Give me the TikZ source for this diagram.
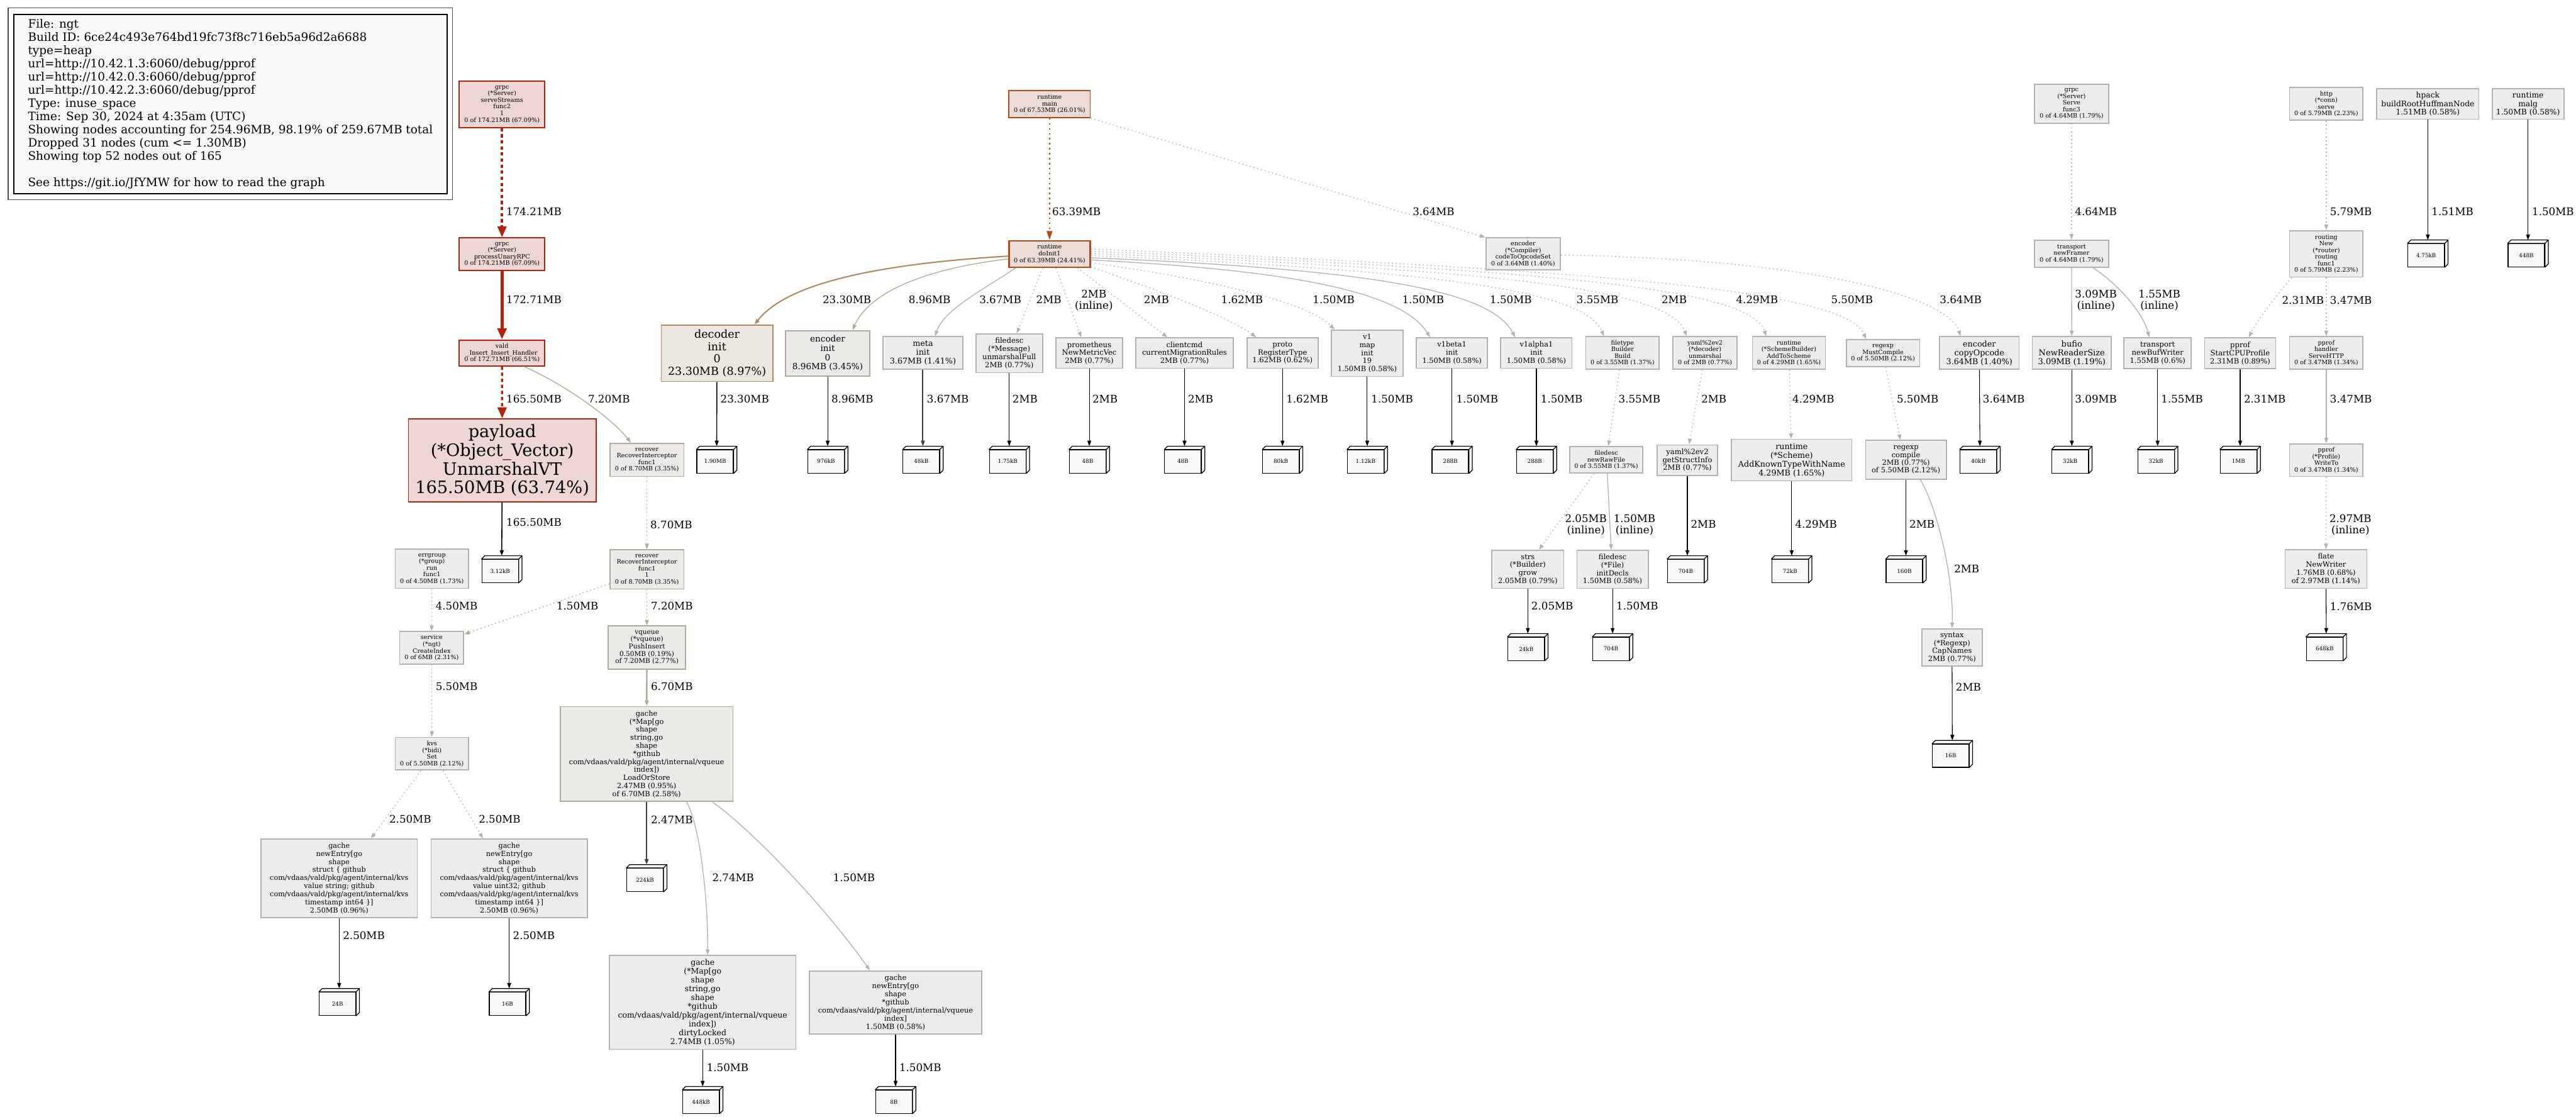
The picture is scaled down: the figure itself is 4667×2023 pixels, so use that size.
\documentclass[tikz,border=0pt]{standalone}
\usepackage{fontspec}
\setmainfont{DejaVu Serif}
\usetikzlibrary{arrows.meta}

\definecolor{grayf}{HTML}{EDEDED}
\definecolor{grayb}{HTML}{B2B2B2}
\definecolor{tanf}{HTML}{EDEBE8}
\definecolor{tanb}{HTML}{B2AA99}
\definecolor{redf}{HTML}{EDD6D5}
\definecolor{redb}{HTML}{B2220E}
\definecolor{orgf}{HTML}{EDDCD5}
\definecolor{orgb}{HTML}{B24A19}
\definecolor{brnf}{HTML}{EDE7E1}
\definecolor{brnb}{HTML}{B28A60}
\definecolor{leaff}{HTML}{F8F8F8}
\definecolor{legf}{HTML}{F8F8F8}

\begin{document}
\begin{tikzpicture}[
    x=0.5pt, y=-0.5pt,
    nd/.style={rectangle, align=center, inner sep=0pt, line width=1pt},
    gnode/.style={nd, draw=grayb, fill=grayf},
    tnode/.style={nd, draw=tanb, fill=tanf},
    rnode/.style={nd, draw=redb, fill=redf},
    onode/.style={nd, draw=orgb, fill=orgf},
    sz/.style 2 args={minimum width=#1*0.5pt, minimum height=#2*0.5pt},
    fs/.style 2 args={font=\fontsize{#1pt}{#2pt}\selectfont},
    leaf/.style={draw=black, fill=leaff, line width=0.7pt, minimum width=33pt, minimum height=21pt, inner sep=0pt, fs={5}{6},
        append after command={\pgfextra{
            \draw[line width=0.7pt, fill=leaff, line join=round] (\tikzlastnode.north west) -- ++(3pt,3pt)
                -- ([shift={(3pt,3pt)}]\tikzlastnode.north east) -- ([shift={(3pt,3pt)}]\tikzlastnode.south east)
                -- (\tikzlastnode.south east) -- (\tikzlastnode.north east) -- cycle;
            \draw[line width=0.7pt] (\tikzlastnode.north east) -- ++(3pt,3pt);}}},
    lbl/.style={anchor=west, inner sep=0pt, align=center, fs={9.5}{10}},
    link/.style={-{Triangle[length=5pt,width=3.5pt]}, line width=0.75pt, draw=grayb},
    dotl/.style={dash pattern=on 1pt off 2.5pt},
    lf/.style={-{Triangle[length=5pt,width=3.5pt]}, line width=0.6pt, draw=black},
    hot/.style={-{Triangle[length=10pt,width=8pt]}, draw=redb, line width=2pt}
]
    \fill[white] (0,0) rectangle (4667,2023);
    \useasboundingbox (0,0) rectangle (4667,2023);

    % legend
    \node[draw=black, fill=legf, line width=1pt, sz={785}{325}, align=left, fs={10.5}{12}] (legend) at (417.5,188.5)
        {File: ngt\\Build ID: 6ce24c493e764bd19fc73f8c716eb5a96d2a6688\\type=heap\\url=http://10.42.1.3:6060/debug/pprof\\url=http://10.42.0.3:6060/debug/pprof\\url=http://10.42.2.3:6060/debug/pprof\\Type: inuse\_space\\Time: Sep 30, 2024 at 4:35am (UTC)\\Showing nodes accounting for 254.96MB, 98.19\% of 259.67MB total\\Dropped 31 nodes (cum <= 1.30MB)\\Showing top 52 nodes out of 165\\[12pt]See https://git.io/JfYMW for how to read the graph};
    \draw[black!70, line width=0.8pt] ([shift={(-4.5pt,5.5pt)}]legend.north west) rectangle ([shift={(4.5pt,-5pt)}]legend.south east);

    % grpc insert path
    \node[rnode, sz={155}{84}, fs={5.5}{6}] (srvstreams) at (909.5,189) {grpc\\(*Server)\\serveStreams\\func2\\1\\0 of 174.21MB (67.09\%)};
    \node[rnode, sz={155}{59}, fs={5.5}{6}] (unary) at (909.5,460.5) {grpc\\(*Server)\\processUnaryRPC\\0 of 174.21MB (67.09\%)};
    \node[rnode, sz={155}{47}, fs={5.5}{6}] (vald) at (909.5,639.5) {vald\\\_Insert\_Insert\_Handler\\0 of 172.71MB (66.51\%)};
    \node[rnode, sz={340}{150}, fs={15.5}{17}] (payload) at (910,834) {payload\\(*Object\_Vector)\\UnmarshalVT\\165.50MB (63.74\%)};
    \node[tnode, sz={134}{60}, fs={5.5}{6}] (recov1) at (1172,833) {recover\\RecoverInterceptor\\func1\\0 of 8.70MB (3.35\%)};
    \node[tnode, sz={134}{71}, fs={5.5}{6}] (recov2) at (1172,1031.5) {recover\\RecoverInterceptor\\func1\\1\\0 of 8.70MB (3.35\%)};
    \node[tnode, sz={140}{78}, fs={6}{6.6}] (vqueue) at (1172,1173) {vqueue\\(*vqueue)\\PushInsert\\0.50MB (0.19\%)\\of 7.20MB (2.77\%)};
    \node[tnode, sz={313}{172}, fs={6.5}{7.3}] (loadstore) at (1171.5,1366) {gache\\(*Map[go\\shape\\string,go\\shape\\*github\\com/vdaas/vald/pkg/agent/internal/vqueue\\index])\\LoadOrStore\\2.47MB (0.95\%)\\of 6.70MB (2.58\%)};
    \node[gnode, sz={133}{71}, fs={5.5}{6}] (errgroup) at (782.5,1030.5) {errgroup\\(*group)\\run\\func1\\0 of 4.50MB (1.73\%)};
    \node[gnode, sz={116}{59}, fs={5.5}{6}] (service) at (782,1173.5) {service\\(*ngt)\\CreateIndex\\0 of 6MB (2.31\%)};
    \node[gnode, sz={133}{59}, fs={5.5}{6}] (kvs) at (782.5,1365.5) {kvs\\(*bidi)\\Set\\0 of 5.50MB (2.12\%)};
    \node[gnode, sz={283}{142}, fs={6.4}{7.3}] (entrystr) at (614.5,1591) {gache\\newEntry[go\\shape\\struct \{ github\\com/vdaas/vald/pkg/agent/internal/kvs\\value string; github\\com/vdaas/vald/pkg/agent/internal/kvs\\timestamp int64 \}]\\2.50MB (0.96\%)};
    \node[gnode, sz={283}{142}, fs={6.4}{7.3}] (entryint) at (922.5,1591) {gache\\newEntry[go\\shape\\struct \{ github\\com/vdaas/vald/pkg/agent/internal/kvs\\value uint32; github\\com/vdaas/vald/pkg/agent/internal/kvs\\timestamp int64 \}]\\2.50MB (0.96\%)};
    \node[gnode, sz={338}{170}, fs={7.1}{8}] (dirty) at (1273,1816) {gache\\(*Map[go\\shape\\string,go\\shape\\*github\\com/vdaas/vald/pkg/agent/internal/vqueue\\index])\\dirtyLocked\\2.74MB (1.05\%)};
    \node[gnode, sz={313}{114}, fs={6.5}{7.4}] (entryvq) at (1622.5,1816) {gache\\newEntry[go\\shape\\*github\\com/vdaas/vald/pkg/agent/internal/vqueue\\index]\\1.50MB (0.58\%)};

    % init path
    \node[onode, sz={147}{49}, fs={5.5}{6}] (rtmain) at (1901.5,188.5) {runtime\\main\\0 of 67.53MB (26.01\%)};
    \node[onode, sz={147}{48}, fs={5.5}{6}, line width=1.3pt] (doinit) at (1901.5,460) {runtime\\doInit1\\0 of 63.39MB (24.41\%)};
    \node[nd, draw=brnb, fill=brnf, sz={202}{102}, fs={10}{11.2}] (decoder) at (1299,640) {decoder\\init\\0\\23.30MB (8.97\%)};
    \node[tnode, sz={153}{82}, fs={7.75}{8.35}] (encinit) at (1499.5,640) {encoder\\init\\0\\8.96MB (3.45\%)};
    \node[gnode, sz={144}{59}, fs={7.25}{8}] (meta) at (1672,639.5) {meta\\init\\3.67MB (1.41\%)};
    \node[gnode, sz={121}{70}, fs={6.6}{7.35}] (fdmsg) at (1828.5,640) {filedesc\\(*Message)\\unmarshalFull\\2MB (0.77\%)};
    \node[gnode, sz={121}{55}, fs={6.6}{7.2}] (prom) at (1973.5,639.5) {prometheus\\NewMetricVec\\2MB (0.77\%)};
    \node[gnode, sz={177}{55}, fs={6.6}{7.2}] (clientcmd) at (2146,639.5) {clientcmd\\currentMigrationRules\\2MB (0.77\%)};
    \node[gnode, sz={129}{55}, fs={6.6}{7.2}] (proto) at (2323.5,639.5) {proto\\RegisterType\\1.62MB (0.62\%)};
    \node[gnode, sz={130}{84}, fs={6.5}{7.3}] (v1map) at (2477,640) {v1\\map\\init\\19\\1.50MB (0.58\%)};
    \node[gnode, sz={129}{55}, fs={6.5}{7.5}] (v1beta) at (2630.5,639.5) {v1beta1\\init\\1.50MB (0.58\%)};
    \node[gnode, sz={129}{55}, fs={6.5}{7.5}] (v1alpha) at (2783.5,639.5) {v1alpha1\\init\\1.50MB (0.58\%)};
    \node[gnode, sz={133}{59}, fs={5.5}{6}] (filetype) at (2939.5,639.5) {filetype\\Builder\\Build\\0 of 3.55MB (1.37\%)};
    \node[gnode, sz={116}{59}, fs={5.5}{6}] (yamldec) at (3089,639.5) {yaml\%2ev2\\(*decoder)\\unmarshal\\0 of 2MB (0.77\%)};
    \node[gnode, sz={132}{59}, fs={5.5}{6}] (schemeb) at (3241,639.5) {runtime\\(*SchemeBuilder)\\AddToScheme\\0 of 4.29MB (1.65\%)};
    \node[gnode, sz={133}{49}, fs={5.5}{6}] (mustcomp) at (3411.5,639.5) {regexp\\MustCompile\\0 of 5.50MB (2.12\%)};
    \node[gnode, sz={144}{59}, fs={7.25}{8}] (copyop) at (3586,639.5) {encoder\\copyOpcode\\3.64MB (1.40\%)};
    \node[gnode, sz={135}{58}, fs={5.5}{6}] (compiler) at (2759.5,460) {encoder\\(*Compiler)\\codeToOpcodeSet\\0 of 3.64MB (1.40\%)};
    \node[gnode, sz={132}{48}, fs={5.5}{6}] (newraw) at (2910,833) {filedesc\\newRawFile\\0 of 3.55MB (1.37\%)};
    \node[gnode, sz={110}{55}, fs={6.6}{7}] (getstruct) at (3057,833.5) {yaml\%2ev2\\getStructInfo\\2MB (0.77\%)};
    \node[gnode, sz={218}{75}, fs={7.25}{8}] (addknown) at (3246,833.5) {runtime\\(*Scheme)\\AddKnownTypeWithName\\4.29MB (1.65\%)};
    \node[gnode, sz={146}{70}, fs={6.5}{7}] (regcomp) at (3453,833) {regexp\\compile\\2MB (0.77\%)\\of 5.50MB (2.12\%)};
    \node[gnode, sz={130}{69}, fs={6.5}{7.25}] (strs) at (2768,1031.5) {strs\\(*Builder)\\grow\\2.05MB (0.79\%)};
    \node[gnode, sz={129}{69}, fs={6.5}{7.25}] (initdecls) at (2921.5,1031.5) {filedesc\\(*File)\\initDecls\\1.50MB (0.58\%)};
    \node[gnode, sz={109}{68}, fs={6.5}{7.25}] (syntax) at (3536.5,1173) {syntax\\(*Regexp)\\CapNames\\2MB (0.77\%)};

    % serving side
    \node[gnode, sz={134}{70}, fs={5.5}{6}] (serve3) at (3753,188) {grpc\\(*Server)\\Serve\\func3\\0 of 4.64MB (1.79\%)};
    \node[gnode, sz={134}{49}, fs={5.5}{6}] (newframer) at (3753,459.5) {transport\\newFramer\\0 of 4.64MB (1.79\%)};
    \node[gnode, sz={143}{59}, fs={7.4}{8}] (bufio) at (3753.5,639.5) {bufio\\NewReaderSize\\3.09MB (1.19\%)};
    \node[gnode, sz={122}{56}, fs={6.6}{7.5}] (bufwr) at (3909,640) {transport\\newBufWriter\\1.55MB (0.6\%)};
    \node[gnode, sz={129}{56}, fs={6.6}{7.5}] (startcpu) at (4058.5,640) {pprof\\StartCPUProfile\\2.31MB (0.89\%)};
    \node[gnode, sz={133}{60}, fs={5.5}{6}] (httpserve) at (4214.5,188) {http\\(*conn)\\serve\\0 of 5.79MB (2.23\%)};
    \node[gnode, sz={133}{84}, fs={5.5}{6}] (routing) at (4214.5,460) {routing\\New\\(*router)\\routing\\func1\\0 of 5.79MB (2.23\%)};
    \node[gnode, sz={133}{59}, fs={5.5}{6}] (handler) at (4214.5,639.5) {pprof\\handler\\ServeHTTP\\0 of 3.47MB (1.34\%)};
    \node[gnode, sz={133}{59}, fs={5.5}{6}] (writeto) at (4214.5,833.5) {pprof\\(*Profile)\\WriteTo\\0 of 3.47MB (1.34\%)};
    \node[gnode, sz={148}{70}, fs={6.5}{7.35}] (flate) at (4214,1031) {flate\\NewWriter\\1.76MB (0.68\%)\\of 2.97MB (1.14\%)};
    \node[gnode, sz={185}{55}, fs={7}{7.5}] (hpack) at (4398.5,188.5) {hpack\\buildRootHuffmanNode\\1.51MB (0.58\%)};
    \node[gnode, sz={130}{55}, fs={7}{7.5}] (malg) at (4580,188.5) {runtime\\malg\\1.50MB (0.58\%)};

    % allocation sizes
    \node[leaf] (k312) at (906,1034.5) {3.12kB};
    \node[leaf] (m190) at (1295.5,836) {1.90MB};
    \node[leaf] (k976) at (1496.5,836) {976kB};
    \node[leaf] (k48) at (1669,836) {48kB};
    \node[leaf] (k175) at (1825.5,836) {1.75kB};
    \node[leaf] (b48a) at (1970.5,836) {48B};
    \node[leaf] (b48b) at (2143,836) {48B};
    \node[leaf] (k80) at (2320.5,836) {80kB};
    \node[leaf] (k112) at (2474,836) {1.12kB};
    \node[leaf] (b288a) at (2627.5,836) {288B};
    \node[leaf] (b288b) at (2780.5,836) {288B};
    \node[leaf] (k40) at (3584,836) {40kB};
    \node[leaf] (k24) at (2765,1175.5) {24kB};
    \node[leaf] (b704a) at (2918.5,1175.5) {704B};
    \node[leaf] (b704b) at (3054,1034.5) {704B};
    \node[leaf] (k72) at (3243,1034.5) {72kB};
    \node[leaf] (b160) at (3450,1034.5) {160B};
    \node[leaf] (b16c) at (3534,1369) {16B};
    \node[leaf] (k32a) at (3750.5,836) {32kB};
    \node[leaf] (k32b) at (3906,836) {32kB};
    \node[leaf] (m1) at (4055.5,836) {1MB};
    \node[leaf] (k648) at (4211.5,1175.5) {648kB};
    \node[leaf] (k475) at (4395.5,462.5) {4.75kB};
    \node[leaf] (b448) at (4577,462.5) {448B};
    \node[leaf] (b24) at (611.5,1818.5) {24B};
    \node[leaf] (b16) at (919.5,1818.5) {16B};
    \node[leaf] (k224) at (1168.5,1594) {224kB};
    \node[leaf] (k448) at (1270,1996) {448kB};
    \node[leaf] (b8) at (1619.5,1996) {8B};

    % edges, insert path
    \draw[hot, dash pattern=on 3pt off 2.5pt] (srvstreams) -- (unary);
    \draw[hot, line width=3pt] (unary) -- (vald);
    \draw[hot, dash pattern=on 3pt off 2.5pt] (vald) -- (payload);
    \draw[link, draw=tanb] ([xshift=20pt]vald.south) .. controls (1030,700) and (1110,760) .. ([xshift=-14.5pt]recov1.north);
    \draw[lf, line width=0.9pt] (payload) -- ([xshift=1.5pt,yshift=3pt]k312.north);
    \draw[link, dotl, draw=tanb] (recov1) -- (recov2);
    \draw[link, dotl, draw=tanb] (recov2) -- (vqueue);
    \draw[link, dotl, draw=tanb] ([yshift=-13pt]recov2.west) -- ([yshift=-3pt]service.north east);
    \draw[link, dotl] (errgroup) -- (service);
    \draw[link, dotl] (service) -- (kvs);
    \draw[link, dotl] ([xshift=-10pt]kvs.south) -- ([xshift=28.75pt]entrystr.north);
    \draw[link, dotl] ([xshift=10pt]kvs.south) -- ([xshift=-23.75pt]entryint.north);
    \draw[lf] (entrystr) -- ([xshift=1.5pt,yshift=3pt]b24.north);
    \draw[lf] (entryint) -- ([xshift=1.5pt,yshift=3pt]b16.north);
    \draw[link, draw=tanb, line width=1.4pt] (vqueue) -- (loadstore);
    \draw[lf, line width=1.2pt, draw=black!75] (loadstore) -- ([xshift=1.5pt,yshift=3pt]k224.north);
    \draw[link] ([xshift=36.25pt]loadstore.south) .. controls (1270,1500) and (1283,1640) .. ([xshift=4.5pt]dirty.north);
    \draw[link] ([xshift=59.75pt]loadstore.south) .. controls (1370,1510) and (1500,1650) .. ([xshift=-23.25pt]entryvq.north);
    \draw[lf] (dirty) -- ([xshift=1.5pt,yshift=3pt]k448.north);
    \draw[lf] (entryvq) -- ([xshift=1.5pt,yshift=3pt]b8.north);

    % edges, init path
    \draw[-{Triangle[length=8pt,width=5pt]}, draw=orgb, line width=1.4pt, dash pattern=on 1.5pt off 3pt] (rtmain) -- (doinit);
    \draw[link, dotl] (rtmain.south east) -- (compiler.north west);
    \draw[link, draw=brnb, line width=1.2pt] ([yshift=-2pt]doinit.west) .. controls (1560,480) and (1420,520) .. ([xshift=34pt]decoder.north);
    \draw[link, draw=tanb] ([yshift=-4.5pt]doinit.west) .. controls (1650,490) and (1570,540) .. ([xshift=22.5pt]encinit.north);
    \draw[link] ([xshift=-30.75pt]doinit.south) .. controls (1790,520) and (1710,560) .. ([xshift=11pt]meta.north);
    \draw[link, dotl] ([xshift=-6.25pt]doinit.south) -- ([xshift=6.75pt]fdmsg.north);
    \draw[link, dotl] ([xshift=5.75pt]doinit.south) -- ([xshift=-7.25pt]prom.north);
    \draw[link, dotl] ([xshift=25.25pt]doinit.south) -- ([xshift=-15.5pt]clientcmd.north);
    \draw[link, dotl] ([yshift=1pt]doinit.south east) .. controls (2080,520) and (2220,570) .. ([xshift=-23.75pt]proto.north);
    \draw[link, dotl] ([yshift=-8pt]doinit.east) .. controls (2150,500) and (2360,540) .. ([xshift=-29.5pt]v1map.north);
    \draw[link] ([yshift=-5.5pt]doinit.east) .. controls (2350,490) and (2540,530) .. ([xshift=-19.75pt]v1beta.north);
    \draw[link] ([yshift=-3.5pt]doinit.east) .. controls (2480,488) and (2700,525) .. ([xshift=-19.25pt]v1alpha.north);
    \draw[link, dotl] ([yshift=-1.5pt]doinit.east) .. controls (2600,490) and (2870,525) .. ([xshift=-16.75pt]filetype.north);
    \draw[link, dotl] ([yshift=0.5pt]doinit.east) .. controls (2700,490) and (3020,520) .. ([xshift=-16.5pt]yamldec.north);
    \draw[link, dotl] ([yshift=2.5pt]doinit.east) .. controls (2800,490) and (3170,520) .. ([xshift=-20.5pt]schemeb.north);
    \draw[link, dotl] ([yshift=4.5pt]doinit.east) .. controls (2900,490) and (3340,525) .. ([xshift=-15.25pt]mustcomp.north);
    \draw[link, dotl] ([yshift=-1pt]compiler.east) .. controls (3300,470) and (3530,540) .. ([xshift=-17pt]copyop.north);
    \draw[lf, line width=0.8pt] (decoder) -- ([xshift=1.5pt,yshift=3pt]m190.north);
    \draw[lf] (encinit) -- ([xshift=1.5pt,yshift=3pt]k976.north);
    \draw[lf, line width=1.1pt, draw=black!75] (meta) -- ([xshift=1.5pt,yshift=3pt]k48.north);
    \draw[lf] (fdmsg) -- ([xshift=1.5pt,yshift=3pt]k175.north);
    \draw[lf] (prom) -- ([xshift=1.5pt,yshift=3pt]b48a.north);
    \draw[lf] (clientcmd) -- ([xshift=1.5pt,yshift=3pt]b48b.north);
    \draw[lf] (proto) -- ([xshift=1.5pt,yshift=3pt]k80.north);
    \draw[lf] (v1map) -- ([xshift=1.5pt,yshift=3pt]k112.north);
    \draw[lf] (v1beta) -- ([xshift=1.5pt,yshift=3pt]b288a.north);
    \draw[lf] (v1alpha) -- ([xshift=1.5pt,yshift=3pt]b288b.north);
    \draw[lf] (copyop) -- ([xshift=1.5pt,yshift=3pt]k40.north);
    \draw[link, dotl] ([xshift=-2.75pt]filetype.south) -- ([xshift=2pt]newraw.north);
    \draw[link, dotl] ([xshift=-2.5pt]yamldec.south) -- ([xshift=1.5pt]getstruct.north);
    \draw[link, dotl] (schemeb) -- (addknown);
    \draw[link, dotl] ([xshift=2.25pt]mustcomp.south) -- ([xshift=-5pt]regcomp.north);
    \draw[link, dotl] ([xshift=-11pt]newraw.south) -- ([xshift=10pt]strs.north);
    \draw[link] ([xshift=1pt]newraw.south) -- ([xshift=-1.25pt]initdecls.north);
    \draw[link] ([xshift=13pt]regcomp.south) .. controls (3510,920) and (3540,1050) .. (syntax.north);
    \draw[lf] (strs) -- ([xshift=1.5pt,yshift=3pt]k24.north);
    \draw[lf] (initdecls) -- ([xshift=1.5pt,yshift=3pt]b704a.north);
    \draw[lf] (getstruct) -- ([xshift=1.5pt,yshift=3pt]b704b.north);
    \draw[lf] (addknown) -- ([xshift=1.5pt,yshift=3pt]k72.north);
    \draw[lf] (regcomp) -- ([xshift=1.5pt,yshift=3pt]b160.north);
    \draw[lf] (syntax) -- ([xshift=1.5pt,yshift=3pt]b16c.north);

    % edges, serving side
    \draw[link, dotl] (serve3) -- (newframer);
    \draw[link] (newframer) -- (bufio);
    \draw[link] ([xshift=19.5pt]newframer.south) .. controls (3830,510) and (3880,560) .. ([xshift=-7.5pt]bufwr.north);
    \draw[lf] (bufio) -- ([xshift=1.5pt,yshift=3pt]k32a.north);
    \draw[lf] (bufwr) -- ([xshift=1.5pt,yshift=3pt]k32b.north);
    \draw[link, dotl] (httpserve) -- (routing);
    \draw[link, dotl] ([xshift=-31.25pt]routing.south) .. controls (4120,540) and (4090,580) .. ([xshift=7.75pt]startcpu.north);
    \draw[link, dotl] (routing) -- (handler);
    \draw[link] (handler) -- (writeto);
    \draw[link, dotl] (writeto) -- (flate);
    \draw[lf] (startcpu) -- ([xshift=1.5pt,yshift=3pt]m1.north);
    \draw[lf] (flate) -- ([xshift=1.5pt,yshift=3pt]k648.north);
    \draw[lf] (hpack) -- ([xshift=1.5pt,yshift=3pt]k475.north);
    \draw[lf] (malg) -- ([xshift=1.5pt,yshift=3pt]b448.north);

    % edge labels
    \node[lbl] (w1) at (917,383) {174.21MB};
    \node[lbl] (w2) at (917,543) {172.71MB};
    \node[lbl] (w3) at (917,723) {165.50MB};
    \node[lbl] (w4) at (1065,723) {7.20MB};
    \node[lbl] (w5) at (917,946) {165.50MB};
    \node[lbl] (w6) at (1178,951) {8.70MB};
    \node[lbl] (w7) at (1179,1098) {7.20MB};
    \node[lbl] (w8) at (1008,1098) {1.50MB};
    \node[lbl] (w9) at (789,1098) {4.50MB};
    \node[lbl] (w10) at (789,1244) {5.50MB};
    \node[lbl] (w11) at (1179,1244) {6.70MB};
    \node[lbl] (w12) at (705,1484) {2.50MB};
    \node[lbl] (w13) at (867,1484) {2.50MB};
    \node[lbl] (w14) at (621,1695) {2.50MB};
    \node[lbl] (w15) at (929,1695) {2.50MB};
    \node[lbl] (w16) at (1179,1485) {2.47MB};
    \node[lbl] (w17) at (1290,1590) {2.74MB};
    \node[lbl] (w18) at (1509,1590) {1.50MB};
    \node[lbl] (w19) at (1280,1934) {1.50MB};
    \node[lbl] (w20) at (1629,1934) {1.50MB};
    \node[lbl] (w21) at (1906,383) {63.39MB};
    \node[lbl] (w22) at (2559,383) {3.64MB};
    \node[lbl] (w23) at (1490,543) {23.30MB};
    \node[lbl] (w24) at (1646,543) {8.96MB};
    \node[lbl] (w25) at (1774,543) {3.67MB};
    \node[lbl] (w26) at (1877,543) {2MB};
    \node[lbl] (w27) at (1947,544) {2MB\\(inline)};
    \node[lbl] (w28) at (2072,543) {2MB};
    \node[lbl] (w29) at (2212,543) {1.62MB};
    \node[lbl] (w30) at (2378,543) {1.50MB};
    \node[lbl] (w31) at (2540,543) {1.50MB};
    \node[lbl] (w32) at (2699,543) {1.50MB};
    \node[lbl] (w33) at (2856,543) {3.55MB};
    \node[lbl] (w34) at (3010,543) {2MB};
    \node[lbl] (w35) at (3145,543) {4.29MB};
    \node[lbl] (w36) at (3317,543) {5.50MB};
    \node[lbl] (w37) at (3514,543) {3.64MB};
    \node[lbl] (w38) at (1305,723) {23.30MB};
    \node[lbl] (w39) at (1506,723) {8.96MB};
    \node[lbl] (w40) at (1679,723) {3.67MB};
    \node[lbl] (w41) at (1834,723) {2MB};
    \node[lbl] (w42) at (1979,723) {2MB};
    \node[lbl] (w43) at (2152,723) {2MB};
    \node[lbl] (w44) at (2330,723) {1.62MB};
    \node[lbl] (w45) at (2484,723) {1.50MB};
    \node[lbl] (w46) at (2638,723) {1.50MB};
    \node[lbl] (w47) at (2791,723) {1.50MB};
    \node[lbl] (w48) at (2932,723) {3.55MB};
    \node[lbl] (w49) at (3082,723) {2MB};
    \node[lbl] (w50) at (3247,723) {4.29MB};
    \node[lbl] (w51) at (3436,723) {5.50MB};
    \node[lbl] (w52) at (3592,723) {3.64MB};
    \node[lbl] (w53) at (2835,951) {2.05MB\\(inline)};
    \node[lbl] (w54) at (2923,951) {1.50MB\\(inline)};
    \node[lbl] (w55) at (3063,950) {2MB};
    \node[lbl] (w56) at (3252,950) {4.29MB};
    \node[lbl] (w57) at (3459,950) {2MB};
    \node[lbl] (w58) at (3540,1030) {2MB};
    \node[lbl] (w59) at (2774,1098) {2.05MB};
    \node[lbl] (w60) at (2928,1098) {1.50MB};
    \node[lbl] (w61) at (3543,1245) {2MB};
    \node[lbl] (w62) at (3759,383) {4.64MB};
    \node[lbl] (w63) at (3759,544) {3.09MB\\(inline)};
    \node[lbl] (w64) at (3874,544) {1.55MB\\(inline)};
    \node[lbl] (w65) at (3759,723) {3.09MB};
    \node[lbl] (w66) at (3915,723) {1.55MB};
    \node[lbl] (w67) at (4221,383) {5.79MB};
    \node[lbl] (w68) at (4134,544) {2.31MB};
    \node[lbl] (w69) at (4221,544) {3.47MB};
    \node[lbl] (w70) at (4065,723) {2.31MB};
    \node[lbl] (w71) at (4221,723) {3.47MB};
    \node[lbl] (w72) at (4220,951) {2.97MB\\(inline)};
    \node[lbl] (w73) at (4221,1099) {1.76MB};
    \node[lbl] (w74) at (4405,383) {1.51MB};
    \node[lbl] (w75) at (4587,383) {1.50MB};
\end{tikzpicture}
\end{document}
